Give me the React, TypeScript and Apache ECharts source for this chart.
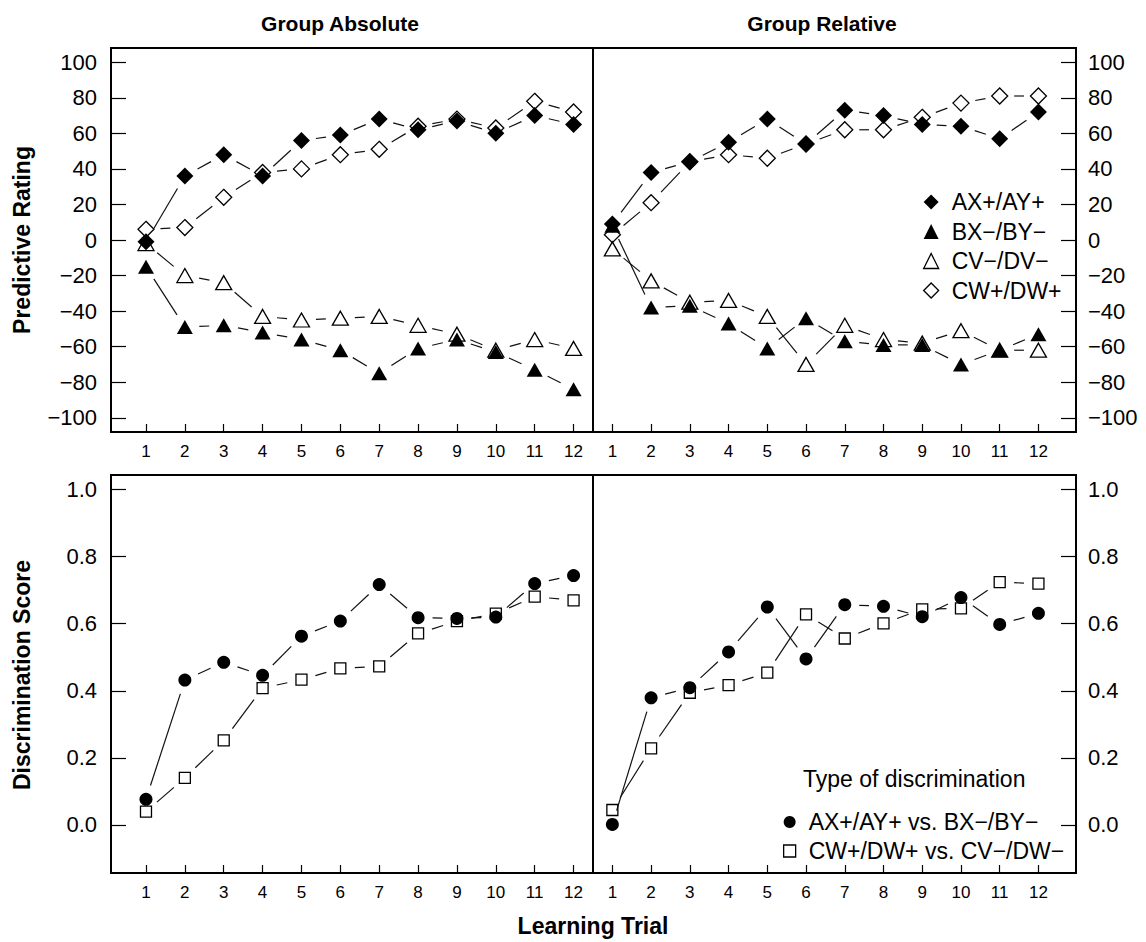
import React, { useEffect, useRef } from "react";
import * as echarts from "echarts";

const trials = [1, 2, 3, 4, 5, 6, 7, 8, 9, 10, 11, 12];
const ratingTicks = [-100, -80, -60, -40, -20, 0, 20, 40, 60, 80, 100];
const scoreTicks = [0, 0.2, 0.4, 0.6, 0.8, 1.0];

// Predictive rating, Group Absolute
const absAX = [-1, 36, 48, 36, 56, 59, 68, 62, 67, 60, 70, 65];
const absBX = [-15, -49, -48, -52, -56, -62, -75, -61, -56, -63, -73, -84];
const absCV = [-2, -20, -24, -43, -45, -44, -43, -48, -53, -62, -56, -61];
const absCW = [6, 7, 24, 38, 40, 48, 51, 64, 68, 63, 78, 72];
// Predictive rating, Group Relative
const relAX = [9, 38, 44, 55, 68, 54, 73, 70, 65, 64, 57, 72];
const relBX = [8, -38, -37, -47, -61, -44, -57, -59, -59, -70, -62, -53];
const relCV = [-5, -23, -35, -34, -43, -70, -48, -56, -58, -51, -62, -62];
const relCW = [3, 21, 44, 48, 46, 54, 62, 62, 69, 77, 81, 81];
// Discrimination score
const absDiscAB = [0.076, 0.432, 0.485, 0.446, 0.563, 0.608, 0.717, 0.618, 0.616, 0.62, 0.72, 0.744];
const absDiscCW = [0.039, 0.14, 0.252, 0.408, 0.433, 0.467, 0.473, 0.571, 0.608, 0.63, 0.681, 0.67];
const relDiscAB = [0.001, 0.379, 0.409, 0.516, 0.65, 0.495, 0.657, 0.652, 0.621, 0.678, 0.598, 0.631];
const relDiscCW = [0.044, 0.228, 0.394, 0.417, 0.454, 0.628, 0.556, 0.601, 0.643, 0.646, 0.724, 0.72];

const nameAX = "AX+/AY+";
const nameBX = "BX\u2212/BY\u2212";
const nameCV = "CV\u2212/DV\u2212";
const nameCW = "CW+/DW+";
const nameDiscAB = "AX+/AY+ vs. BX\u2212/BY\u2212";
const nameDiscCW = "CW+/DW+ vs. CV\u2212/DW\u2212";

const FONT = "'Liberation Sans', Arial, Helvetica, sans-serif";
const INK = "#000";
const GAP = 14.5;

function gapLine(params: any, api: any) {
  const p0 = api.coord([api.value(0), api.value(1)]);
  const p1 = api.coord([api.value(2), api.value(3)]);
  const dx = p1[0] - p0[0];
  const dy = p1[1] - p0[1];
  const len = Math.hypot(dx, dy);
  if (len <= 2 * GAP + 1) return null;
  const ux = dx / len;
  const uy = dy / len;
  return {
    type: "line",
    shape: {
      x1: p0[0] + ux * GAP,
      y1: p0[1] + uy * GAP,
      x2: p1[0] - ux * GAP,
      y2: p1[1] - uy * GAP,
    },
    style: { stroke: "#111", lineWidth: 1.2 },
  };
}

function segs(vals: number[]) {
  const out: number[][] = [];
  for (let i = 0; i < trials.length - 1; i++) {
    out.push([trials[i], vals[i], trials[i + 1], vals[i + 1]]);
  }
  return out;
}

function lineSeries(idx: number, vals: number[]) {
  return {
    type: "custom",
    xAxisIndex: idx,
    yAxisIndex: idx,
    renderItem: gapLine,
    data: segs(vals),
    encode: { x: [0, 2], y: [1, 3] },
    silent: true,
    z: 2,
  };
}

const openStyle = { color: "rgba(0,0,0,0)", borderColor: INK, borderWidth: 1.3, opacity: 1 };
const filledStyle = { color: INK, borderWidth: 0, opacity: 1 };

function pointSeries(idx: number, name: string, vals: number[], symbol: string, size: any, filled: boolean) {
  return {
    type: "scatter",
    name,
    xAxisIndex: idx,
    yAxisIndex: idx,
    data: trials.map((t, i) => [t, vals[i]]),
    symbol,
    symbolSize: size,
    itemStyle: filled ? filledStyle : openStyle,
    z: 3,
    silent: true,
  };
}

const fmtRating = (v: number) => (v < 0 ? "\u2212" + Math.abs(v) : String(v));
const fmtScore = (v: number) => v.toFixed(1);

function xAxis(idx: number, min: number, max: number) {
  return {
    type: "value",
    gridIndex: idx,
    min,
    max,
    axisLine: { show: false, onZero: false },
    splitLine: { show: false },
    axisTick: { show: true, inside: true, length: 8, customValues: trials, lineStyle: { color: INK, width: 1.2 } },
    axisLabel: { show: true, customValues: trials, margin: 11, fontSize: 17, fontFamily: FONT, color: "#000" },
  };
}

function yAxis(idx: number, min: number, max: number, ticks: number[], fmt: any, right: boolean) {
  return {
    type: "value",
    gridIndex: idx,
    min,
    max,
    position: right ? "right" : "left",
    axisLine: { show: false, onZero: false },
    splitLine: { show: false },
    axisTick: { show: true, inside: true, length: 15, customValues: ticks, lineStyle: { color: INK, width: 1.2 } },
    axisLabel: {
      show: true,
      customValues: ticks,
      formatter: fmt,
      margin: right ? 12 : 14,
      fontSize: 22,
      fontFamily: FONT,
      color: "#000",
    },
  };
}

const gridBase = { show: true, borderColor: INK, borderWidth: 2, backgroundColor: "transparent", containLabel: false };

export default function App() {
  const ref = useRef<HTMLDivElement>(null);
  useEffect(() => {
    if (!ref.current) return;
    const chart = echarts.init(ref.current, undefined, { renderer: "svg" });
    const option: any = {
      animation: false,
      backgroundColor: "#fff",
      grid: [
        { ...gridBase, left: 111, top: 48, width: 482, height: 384 },
        { ...gridBase, left: 593, top: 48, width: 483, height: 384 },
        { ...gridBase, left: 111, top: 475, width: 482, height: 398 },
        { ...gridBase, left: 593, top: 475, width: 483, height: 398 },
      ],
      xAxis: [xAxis(0, 0.1, 12.5), xAxis(1, 0.5, 12.97), xAxis(2, 0.1, 12.5), xAxis(3, 0.5, 12.97)],
      yAxis: [
        yAxis(0, -108, 108, ratingTicks, fmtRating, false),
        yAxis(1, -108, 108, ratingTicks, fmtRating, true),
        yAxis(2, -0.144, 1.044, scoreTicks, fmtScore, false),
        yAxis(3, -0.144, 1.044, scoreTicks, fmtScore, true),
      ],
      legend: [
        {
          orient: "vertical",
          left: 918,
          top: 185.5,
          itemWidth: 15,
          itemHeight: 15,
          itemGap: 6.5,
          selectedMode: false,
          textStyle: { fontSize: 23, fontFamily: FONT, color: "#000", lineHeight: 23, padding: [0, 0, 0, 8] },
          data: [
            { name: nameAX, icon: "diamond", itemStyle: filledStyle },
            { name: nameBX, icon: "triangle", itemStyle: filledStyle },
            { name: nameCV, icon: "triangle", itemStyle: openStyle },
            { name: nameCW, icon: "diamond", itemStyle: openStyle },
          ],
        },
        {
          orient: "vertical",
          left: 778,
          top: 805.5,
          itemWidth: 12,
          itemHeight: 12,
          itemGap: 6,
          selectedMode: false,
          textStyle: { fontSize: 23, fontFamily: FONT, color: "#000", lineHeight: 23, padding: [0, 0, 0, 8] },
          data: [
            { name: nameDiscAB, icon: "circle", itemStyle: filledStyle },
            { name: nameDiscCW, icon: "rect", itemStyle: openStyle },
          ],
        },
      ],
      graphic: [
        {
          type: "text",
          x: 340,
          y: 23,
          style: { text: "Group Absolute", textAlign: "center", textVerticalAlign: "middle", font: `bold 21px ${FONT}`, fill: "#000" },
        },
        {
          type: "text",
          x: 822,
          y: 23,
          style: { text: "Group Relative", textAlign: "center", textVerticalAlign: "middle", font: `bold 21px ${FONT}`, fill: "#000" },
        },
        {
          type: "text",
          x: 22,
          y: 240,
          rotation: Math.PI / 2,
          style: { text: "Predictive Rating", textAlign: "center", textVerticalAlign: "middle", font: `bold 23px ${FONT}`, fill: "#000" },
        },
        {
          type: "text",
          x: 22,
          y: 675,
          rotation: Math.PI / 2,
          style: { text: "Discrimination Score", textAlign: "center", textVerticalAlign: "middle", font: `bold 23px ${FONT}`, fill: "#000" },
        },
        {
          type: "text",
          x: 593,
          y: 926,
          style: { text: "Learning Trial", textAlign: "center", textVerticalAlign: "middle", font: `bold 23px ${FONT}`, fill: "#000" },
        },
        {
          type: "text",
          x: 803,
          y: 779,
          style: { text: "Type of discrimination", textAlign: "left", textVerticalAlign: "middle", font: `23px ${FONT}`, fill: "#000" },
        },
      ],
      series: [
        lineSeries(0, absAX),
        lineSeries(0, absBX),
        lineSeries(0, absCV),
        lineSeries(0, absCW),
        lineSeries(1, relAX),
        lineSeries(1, relBX),
        lineSeries(1, relCV),
        lineSeries(1, relCW),
        lineSeries(2, absDiscAB),
        lineSeries(2, absDiscCW),
        lineSeries(3, relDiscAB),
        lineSeries(3, relDiscCW),
        pointSeries(0, nameAX, absAX, "diamond", 17, true),
        pointSeries(0, nameBX, absBX, "triangle", [16, 14], true),
        pointSeries(0, nameCV, absCV, "triangle", [16, 14], false),
        pointSeries(0, nameCW, absCW, "diamond", 16, false),
        pointSeries(1, nameAX, relAX, "diamond", 17, true),
        pointSeries(1, nameBX, relBX, "triangle", [16, 14], true),
        pointSeries(1, nameCV, relCV, "triangle", [16, 14], false),
        pointSeries(1, nameCW, relCW, "diamond", 16, false),
        pointSeries(2, nameDiscAB, absDiscAB, "circle", 13, true),
        pointSeries(2, nameDiscCW, absDiscCW, "rect", 11, false),
        pointSeries(3, nameDiscAB, relDiscAB, "circle", 13, true),
        pointSeries(3, nameDiscCW, relDiscCW, "rect", 11, false),
      ],
    };
    chart.setOption(option);
    return () => chart.dispose();
  }, []);
  return (
    <div
      ref={ref}
      style={{ position: "absolute", left: 0, top: 0, width: 1146, height: 942, background: "#fff" }}
    />
  );
}
